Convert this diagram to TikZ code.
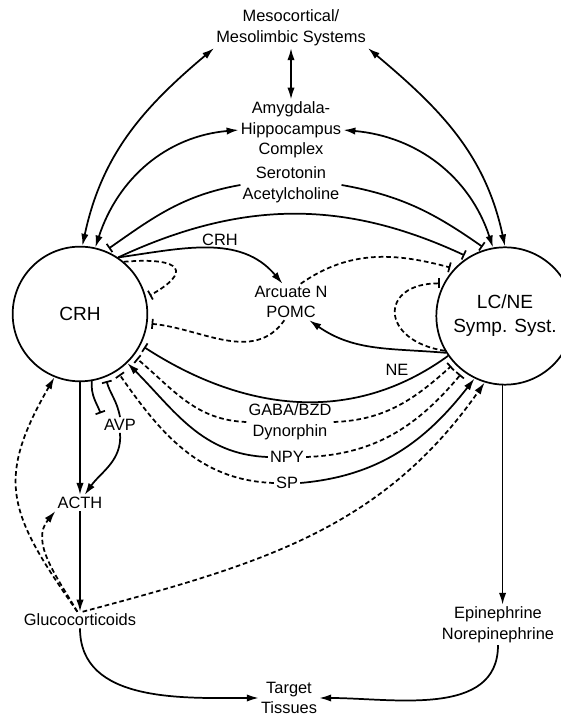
\documentclass[tikz,border=0pt]{standalone}
\usepackage{fontspec}
\setmainfont{Liberation Sans}
\usetikzlibrary{arrows.meta}

\begin{document}
\begin{tikzpicture}[x=0.75pt, y=0.75pt,
  every node/.style={align=center, inner sep=1.5pt, font=\fontsize{12.3}{15.4}\selectfont},
  hub/.style={circle, draw, line width=1.3pt, inner sep=0pt, font=\fontsize{14.3}{18}\selectfont},
  link/.style={line width=1.3pt},
  stim/.style={link, -{Latex[length=9pt, width=5.5pt]}},
  mutual/.style={link, {Latex[length=9pt, width=5.5pt]}-{Latex[length=9pt, width=5.5pt]}},
  block/.style={link, -{Bar[width=7.5pt]}, shorten >=3pt},
  broken/.style={dash pattern=on 3.5pt off 2.2pt}]
\useasboundingbox (0,0) rectangle (560,716);

\node (crh) [hub, minimum size=101pt] at (80,402) {CRH};
\node (lcne) [hub, minimum size=103pt] at (505,400) {LC/NE\\Symp. Syst.};
\node (meso) at (291,688) {Mesocortical/\\Mesolimbic Systems};
\node (amyg) at (291,586) {Amygdala-\\Hippocampus\\Complex};
\node (sero) at (291,531) {Serotonin\\Acetylcholine};
\node (crhlbl) at (220,476) {CRH};
\node (arc) at (291,414) {Arcuate N\\POMC};
\node (nelbl) at (397,346) {NE};
\node (gaba) at (290,294) {GABA/BZD\\Dynorphin};
\node (npy) at (287,259) {NPY};
\node (sp) at (287,233) {SP};
\node (avp) at (120,291) {AVP};
\node (acth) at (80,213) {ACTH};
\node (gluco) at (80,96) {Glucocorticoids};
\node (epi) at (498,91) {Epinephrine\\Norepinephrine};
\node (target) at (289,18) {Target\\Tissues};

\draw [mutual] (meso.south west) to [out=220, in=78] (crh.88);
\draw [mutual] (meso.south east) to [out=-40, in=102] (lcne.90);
\draw [mutual] (meso) -- (amyg);
\draw [mutual] (amyg.west) to [out=185, in=72] (crh.77);
\draw [mutual] (amyg.east) to [out=-5, in=108] (lcne.100);

\draw [block] (sero.west) to [out=190, in=35] (crh.68);
\draw [block] (sero.east) to [out=-10, in=145] (lcne.106);
\draw [block] (crh.56) to [out=25, in=155] (lcne.122);

\draw [stim] (crh.56) to [out=8, in=130] (arc.115);
\draw [block, broken] (crh.50) .. controls +(60,5) and +(45,25) .. (crh.14);
\draw [block, broken] (arc.62) to [out=35, in=165] (lcne.137);
\draw [block, broken] (arc.250) to [out=235, in=-5] (crh.-8);
\draw [block, broken] (lcne.210) .. controls +(-65,10) and +(-65,0) .. (lcne.152);
\draw [stim] (lcne.212) to [out=175, in=-35] (arc.-45);
\draw [block] (lcne.215) to [out=216, in=-33] (crh.-27);

\draw [block, broken] (gaba.west) to [out=178, in=-40] (crh.-38);
\draw [block, broken] (gaba.east) to [out=2, in=222] (lcne.223);
\draw [stim] (npy.west) to [out=178, in=-45] (crh.-46);
\draw [block, broken] (npy.east) to [out=2, in=230] (lcne.233);
\draw [block, broken] (sp.west) to [out=178, in=-55] (crh.-57);
\draw [stim] (sp.east) to [out=5, in=232] (lcne.244);

\draw [block] (crh.-80) to [out=-95, in=110] (avp.north west);
\draw [block] (avp.north) to [out=100, in=-75] (crh.-68);
\draw [stim] (avp.south) to [out=-85, in=55] (acth.60);
\draw [stim] (crh) -- (acth);
\draw [stim] (acth) -- (gluco);

\draw [stim, broken] ([xshift=-2pt]gluco.north) to [out=125, in=-120, looseness=1.3] (crh.-112);
\draw [stim, broken] ([xshift=-2pt]gluco.north) to [out=120, in=-130] (acth.south west);
\draw [stim, broken] ([xshift=2pt]gluco.north) to [out=15, in=235] (lcne.253);

\draw [stim] (lcne.268) -- (lcne.268 |- epi.north);
\draw [stim] (gluco.south) to [out=-90, in=180] (target.west);
\draw [stim] (epi.south) to [out=-90, in=0] (target.east);
\end{tikzpicture}
\end{document}
